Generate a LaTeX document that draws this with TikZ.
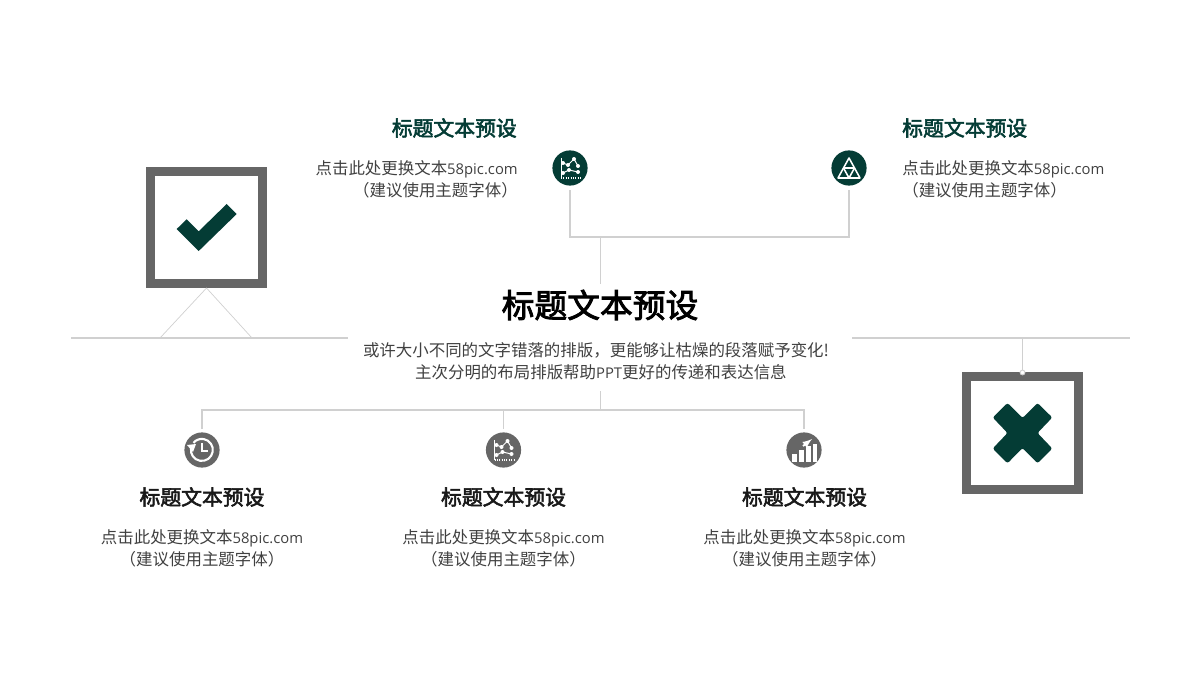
\documentclass[tikz,border=0pt]{standalone}
\usepackage{fontspec}
\setmainfont{Noto Sans CJK SC}
\newfontfamily\latn[Scale=0.9]{Open Sans}
\newfontfamily\headfont[FakeBold=2.6]{Noto Sans CJK SC}
\usetikzlibrary{calc}

\definecolor{deepgreen}{HTML}{043C35}
\definecolor{boxgray}{HTML}{666666}
\definecolor{rulegray}{HTML}{D0D0D0}
\definecolor{bodygray}{HTML}{404040}

\newcommand{\fillerline}{点击此处更换文本{\latn 58pic.com}}
\newcommand{\hintline}{（建议使用主题字体）}
\newcommand{\headline}{标题文本预设}

\tikzset{
  rule/.style={draw=rulegray, line width=0.75pt},
  framebox/.style={draw=boxgray, line width=2.25mm, fill=white, minimum size=2.8cm, inner sep=0pt},
  greendot/.style={circle, fill=deepgreen, minimum size=8.8mm, inner sep=0pt},
  graydot/.style={circle, fill=boxgray, minimum size=8.8mm, inner sep=0pt},
  mainhead/.style={font=\fontsize{23.3}{28}\headfont, text=black},
  greenhead/.style={font=\fontsize{14.8}{18}\headfont, text=deepgreen},
  darkhead/.style={font=\fontsize{14.8}{18}\headfont, text=black!90},
  bodytext/.style={font=\fontsize{11.7}{15.6}\selectfont, text=bodygray, align=center, inner sep=0pt},
  glyph/.style={draw=white, line width=0.7pt},
  chartpic/.pic={
    \draw[glyph] (-9,-10) -- (-9,10);
    \draw[glyph, densely dotted, line width=0.9pt] (-9,10) -- (11,10);
    \draw[glyph] (-7,-5) -- (-2,-3) -- (4,-9) -- (8,-2);
    \draw[glyph] (-7,5) -- (-1,2) -- (8,4);
    \foreach \px/\py in {-7/-5,-2/-3,4/-9,8/-2,-7/5,-1/2,8/4}
      \fill[white] (\px,\py) circle (2);
  },
  trianglepic/.pic={
    \draw[glyph, line width=1.1pt, line join=round] (0,-10) -- (11,10) -- (-11,10) -- cycle;
    \draw[glyph, line width=1.1pt, line join=round] (-5.5,0) -- (5.5,0) -- (0,10) -- cycle;
  },
  historypic/.pic={
    \draw[glyph, line width=1.5pt] (-11,-2) arc (190:-140:11);
    \fill[white] (-15,-5) -- (-6,-6) -- (-9,2) -- cycle;
    \draw[glyph, line width=1.2pt] (0,-7) -- (0,1) -- (6,1);
  },
  barspic/.pic={
    \fill[white] (-12,4) rectangle (-7,12);
    \fill[white] (-5,0) rectangle (0,12);
    \fill[white] (2,-4) rectangle (7,12);
    \fill[white] (9,-6) rectangle (13,12);
    \draw[glyph, line width=1.3pt, -latex] (-1,-4) -- (8,-11);
  }
}

\begin{document}
\begin{tikzpicture}[x=0.025cm, y=-0.025cm]

\useasboundingbox (0,0) rectangle (1200,675);

% Frames with their marks
\node[framebox] (checkbox) at (206.5,227.5) {};
\node[framebox] (crossbox) at (1022.5,433) {};
\fill[deepgreen] (176.7,229) -- (186.7,219.3) -- (198.7,231.3) -- (226.7,204) -- (236.7,214) -- (198.7,251) -- cycle;
\fill[deepgreen, rounded corners=1.5] (1022.5,418) -- (1007.5,403) -- (992.7,417.5) -- (1007.5,433) -- (992.7,448.5) -- (1007.5,463.3) -- (1022.5,448) -- (1037.5,463.3) -- (1052.3,448.5) -- (1037.5,433) -- (1052.3,417.5) -- (1037.5,403) -- cycle;

% Round icons
\node[greendot] (charttop) at (570,168) {};
\node[greendot] (triangletop) at (849,168) {};
\node[graydot] (historylow) at (202,450) {};
\node[graydot] (chartlow) at (503.5,450) {};
\node[graydot] (barslow) at (804,450) {};
\pic at (charttop) {chartpic};
\pic at (triangletop) {trianglepic};
\pic at (historylow) {historypic};
\pic at (chartlow) {chartpic};
\pic at (barslow) {barspic};

% Center texts
\node[mainhead] (maintitle) at (600,305) {\headline};
\node[bodytext] (maintext) at (596,361.5) {或许大小不同的文字错落的排版，更能够让枯燥的段落赋予变化!\\\hspace*{7pt}主次分明的布局排版帮助{\latn PPT}更好的传递和表达信息};

% Upper texts
\node[greenhead, anchor=east, inner sep=0pt] (uppertitleA) at (517,128) {\headline};
\node[greenhead, anchor=west, inner sep=0pt] (uppertitleB) at (902,128) {\headline};
\node[bodytext, anchor=east, align=right] (uppertextA) at (518,179) {\fillerline\\\hintline};
\node[bodytext, anchor=west, align=left] (uppertextB) at (902,179) {\fillerline\\\hintline};

% Lower texts
\node[darkhead] (lowertitleA) at (202,497) {\headline};
\node[darkhead] (lowertitleB) at (503.5,497) {\headline};
\node[darkhead] (lowertitleC) at (804.5,497) {\headline};
\node[bodytext] (lowertextA) at (202,548) {\fillerline\\\hintline};
\node[bodytext] (lowertextB) at (503.5,548) {\fillerline\\\hintline};
\node[bodytext] (lowertextC) at (804.5,548) {\fillerline\\\hintline};

% Long horizontal rules
\coordinate (leftA) at (71,338);
\coordinate (leftB) at (348,338);
\coordinate (rightA) at (852,338);
\coordinate (rightB) at (1130,338);
\draw[rule] (leftA) -- (leftB);
\draw[rule] (rightA) -- (rightB);

% Stand below the check frame
\coordinate (footA) at (160,338);
\coordinate (footB) at (252,338);
\draw[rule, line width=0.5pt] (footA) -- (checkbox.south) -- (footB);

% Hanger above the cross frame
\coordinate (hook) at (1022.5,338);
\draw[rule] (hook) -- (crossbox.north);
\draw[rule, fill=white, line width=0.7pt] (crossbox.north) circle (2.4);

% Upper bracket
\coordinate (upperjoin) at (600.5,237);
\draw[rule] ($(charttop.south)+(0,4.5)$) |- (upperjoin) -| ($(triangletop.south)+(0,4.5)$);
\draw[rule] (upperjoin) -- (600.5,284);

% Lower bracket
\coordinate (lowerjoin) at (600.5,410);
\coordinate (lowerstem) at (600.5,391);
\draw[rule] (lowerstem) -- (lowerjoin);
\draw[rule] ($(historylow.north)+(0,-3)$) |- (lowerjoin) -| ($(barslow.north)+(0,-3)$);
\draw[rule] ($(chartlow.north)+(0,-3)$) -- (chartlow.north |- lowerjoin);

\end{tikzpicture}
\end{document}
